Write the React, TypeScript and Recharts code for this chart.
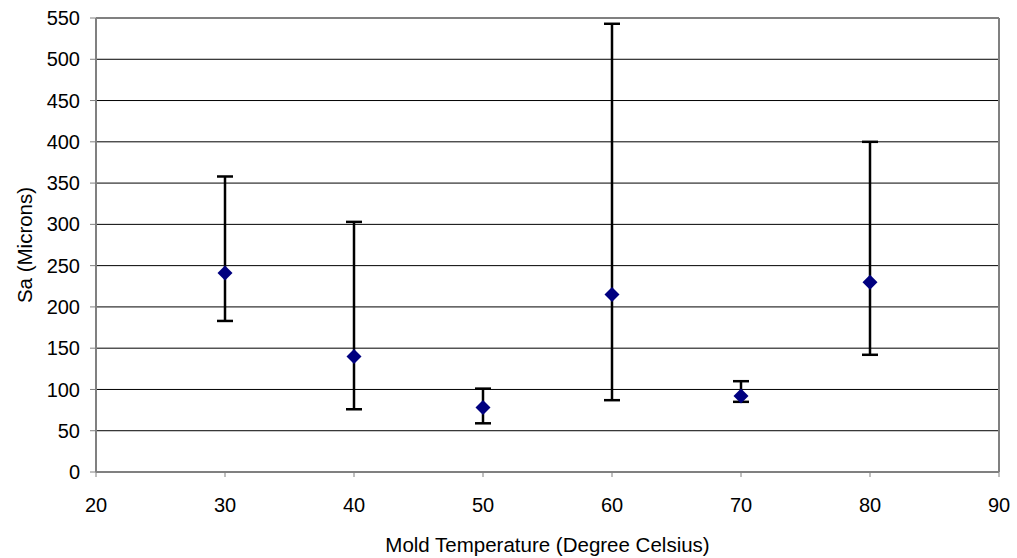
import React from 'react';
import {
  ScatterChart,
  Scatter,
  XAxis,
  YAxis,
  CartesianGrid,
  ErrorBar,
  ReferenceLine,
} from 'recharts';

// values
const temperatures = [30, 40, 50, 60, 70, 80];
const meanSa = [241, 140, 78, 215, 92, 230];
const lowSa = [183, 76, 59, 87, 85, 142];
const highSa = [358, 303, 101, 543, 110, 400];

const xTicks = [20, 30, 40, 50, 60, 70, 80, 90];
const yTicks = [0, 50, 100, 150, 200, 250, 300, 350, 400, 450, 500, 550];

const data = temperatures.map((t, i) => ({
  x: t,
  y: meanSa[i],
  err: [meanSa[i] - lowSa[i], highSa[i] - meanSa[i]],
}));

const FONT = '"Liberation Sans", Arial, sans-serif';
const AXIS_GRAY = '#808080';

const Diamond = (props: any) => {
  const { cx, cy } = props;
  const r = 7.5;
  return (
    <polygon
      points={`${cx},${cy - r} ${cx + r},${cy} ${cx},${cy + r} ${cx - r},${cy}`}
      fill="#000080"
    />
  );
};

const YTitle = (props: any) => {
  const { viewBox } = props;
  const cx = 24;
  const cy = viewBox.y + viewBox.height / 2;
  return (
    <text
      x={cx}
      y={cy}
      transform={`rotate(-90, ${cx}, ${cy})`}
      textAnchor="middle"
      dominantBaseline="central"
      fontSize={20.5}
      fontFamily={FONT}
      fill="#000"
    >
      Sa (Microns)
    </text>
  );
};

export default function App() {
  return (
    <div style={{ position: 'absolute', left: 0, top: 0, background: '#fff' }}>
      <ScatterChart
        width={1017}
        height={558}
        margin={{ top: 18, right: 18, bottom: 0, left: 0 }}
        style={{ fontFamily: FONT }}
      >
        <CartesianGrid vertical={false} stroke="#000" strokeWidth={1} />
        <XAxis
          type="number"
          dataKey="x"
          domain={[20, 90]}
          ticks={xTicks}
          height={86}
          tickSize={5}
          tickMargin={21}
          axisLine={{ stroke: AXIS_GRAY, strokeWidth: 2 }}
          tickLine={{ stroke: AXIS_GRAY, strokeWidth: 1 }}
          tick={{ fill: '#000', fontSize: 20, fontFamily: FONT }}
          label={{
            value: 'Mold Temperature (Degree Celsius)',
            position: 'insideBottom',
            offset: 6,
            fill: '#000',
            fontSize: 20.5,
            fontFamily: FONT,
          }}
        />
        <YAxis
          type="number"
          dataKey="y"
          domain={[0, 550]}
          ticks={yTicks}
          width={96}
          tickSize={6}
          tickMargin={10}
          axisLine={{ stroke: AXIS_GRAY, strokeWidth: 2 }}
          tickLine={{ stroke: AXIS_GRAY, strokeWidth: 1 }}
          tick={{ fill: '#000', fontSize: 20, fontFamily: FONT }}
          label={<YTitle />}
        />
        <ReferenceLine y={550} stroke={AXIS_GRAY} strokeWidth={2} />
        <ReferenceLine x={90} stroke={AXIS_GRAY} strokeWidth={2} />
        <Scatter data={data} shape={<Diamond />} isAnimationActive={false}>
          <ErrorBar
            dataKey="err"
            direction="y"
            width={8}
            stroke="#000"
            strokeWidth={2.5}
            isAnimationActive={false}
          />
        </Scatter>
      </ScatterChart>
    </div>
  );
}
